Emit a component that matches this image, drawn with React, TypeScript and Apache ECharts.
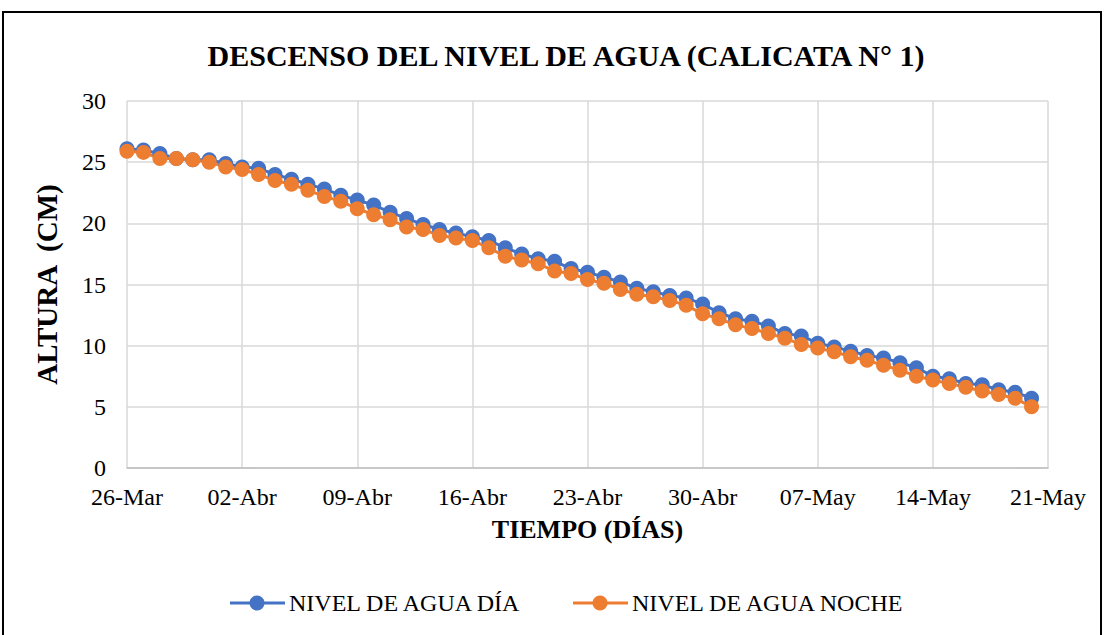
import React, { useEffect, useRef } from "react";
import * as echarts from "echarts";

const xTickLabels = ["26-Mar", "02-Abr", "09-Abr", "16-Abr", "23-Abr", "30-Abr", "07-May", "14-May", "21-May"];
const seriesNames = ["NIVEL DE AGUA DÍA", "NIVEL DE AGUA NOCHE"];
const seriesColors = ["#4472C4", "#ED7D31"];

const nivelDia = [
  26.1, 26.0, 25.7, 25.3, 25.2, 25.2, 24.9, 24.6, 24.5, 24.0,
  23.6, 23.2, 22.8, 22.3, 21.9, 21.5, 20.9, 20.4, 19.9, 19.5,
  19.2, 18.9, 18.6, 18.0, 17.5, 17.1, 16.9, 16.3, 16.0, 15.6,
  15.2, 14.7, 14.4, 14.1, 13.9, 13.4, 12.7, 12.2, 12.0, 11.6,
  11.0, 10.8, 10.2, 9.9, 9.55, 9.2, 9.0, 8.6, 8.2, 7.5,
  7.3, 6.9, 6.8, 6.4, 6.2, 5.7,
];

const nivelNoche = [
  25.9, 25.8, 25.3, 25.3, 25.2, 25.0, 24.6, 24.4, 24.0, 23.5,
  23.2, 22.7, 22.2, 21.8, 21.2, 20.7, 20.3, 19.7, 19.5, 19.0,
  18.8, 18.6, 18.0, 17.3, 17.0, 16.7, 16.1, 15.9, 15.4, 15.1,
  14.6, 14.2, 14.0, 13.7, 13.3, 12.6, 12.2, 11.7, 11.4, 11.0,
  10.6, 10.1, 9.8, 9.5, 9.1, 8.8, 8.4, 8.0, 7.5, 7.2,
  6.9, 6.6, 6.3, 6.0, 5.7, 5.0,
];

const FONT = "Liberation Serif";

function legendItem(x0: number, y: number, color: string, name: string) {
  return [
    { type: "line", shape: { x1: x0, y1: y, x2: x0 + 55, y2: y }, style: { stroke: color, lineWidth: 3 }, silent: true },
    { type: "circle", shape: { cx: x0 + 27, cy: y, r: 7.5 }, style: { fill: color }, silent: true },
    {
      type: "text",
      x: x0 + 59,
      y,
      style: {
        text: name,
        fontFamily: FONT,
        fontSize: 24,
        fontWeight: "normal",
        fill: "#000",
        verticalAlign: "middle",
        align: "left",
      },
      silent: true,
    },
  ];
}

export default function App() {
  const ref = useRef<HTMLDivElement>(null);
  useEffect(() => {
    document.body.style.margin = "0";
    const chart = echarts.init(ref.current!, null, { renderer: "svg" });
    chart.setOption({
      animation: false,
      backgroundColor: "#ffffff",
      textStyle: { fontFamily: FONT },
      title: {
        text: "DESCENSO DEL NIVEL DE AGUA (CALICATA N° 1)",
        left: 561,
        top: 35,
        textAlign: "center",
        textStyle: { fontFamily: FONT, fontSize: 30, fontWeight: "bold", color: "#000" },
      },
      graphic: [
        {
          type: "rect",
          shape: { x: 3, y: 12, width: 1098, height: 640 },
          style: { fill: "none", stroke: "#000", lineWidth: 2 },
          silent: true,
        },
        ...legendItem(230, 603, seriesColors[0], seriesNames[0]),
        ...legendItem(573, 603, seriesColors[1], seriesNames[1]),
      ],
      grid: { left: 127, right: 57, top: 101, bottom: 167, containLabel: false },
      xAxis: {
        type: "value",
        min: 0,
        max: 56,
        interval: 7,
        name: "TIEMPO (DÍAS)",
        nameLocation: "middle",
        nameGap: 48,
        nameTextStyle: { fontFamily: FONT, fontSize: 26, fontWeight: "bold", color: "#000" },
        axisLine: { show: true, lineStyle: { color: "#bfbfbf", width: 1.5 } },
        axisTick: { show: false },
        axisLabel: {
          fontFamily: FONT,
          fontSize: 24,
          color: "#000",
          margin: 17,
          formatter: (v: number) => xTickLabels[Math.round(v / 7)] ?? "",
        },
        splitLine: { show: true, lineStyle: { color: "#d9d9d9", width: 1.5 } },
      },
      yAxis: {
        type: "value",
        min: 0,
        max: 30,
        interval: 5,
        name: "ALTURA  (CM)",
        nameLocation: "middle",
        nameGap: 66,
        nameTextStyle: { fontFamily: FONT, fontSize: 29, fontWeight: "bold", color: "#000" },
        axisLine: { show: false },
        axisTick: { show: false },
        axisLabel: { fontFamily: FONT, fontSize: 24, color: "#000", margin: 21 },
        splitLine: { show: true, lineStyle: { color: "#d9d9d9", width: 1.5 } },
      },
      series: [
        {
          name: seriesNames[0],
          type: "line",
          data: nivelDia.map((v, i) => [i, v]),
          symbol: "circle",
          symbolSize: 15,
          color: seriesColors[0],
          lineStyle: { width: 3, color: seriesColors[0] },
          itemStyle: { color: seriesColors[0] },
        },
        {
          name: seriesNames[1],
          type: "line",
          data: nivelNoche.map((v, i) => [i, v]),
          symbol: "circle",
          symbolSize: 15,
          color: seriesColors[1],
          lineStyle: { width: 3, color: seriesColors[1] },
          itemStyle: { color: seriesColors[1] },
        },
      ],
    });
    return () => chart.dispose();
  }, []);
  return <div ref={ref} style={{ width: 1105, height: 635 }} />;
}
